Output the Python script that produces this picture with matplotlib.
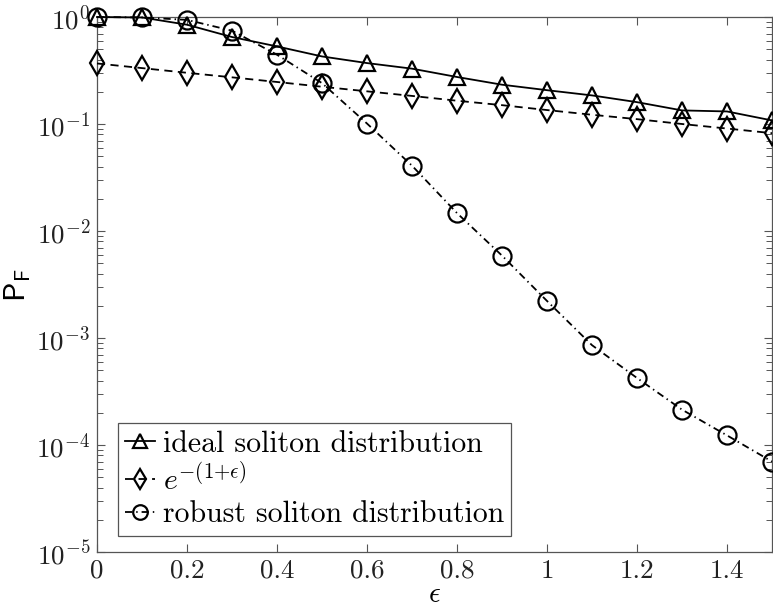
import math
import matplotlib
matplotlib.use("Agg")
import matplotlib.pyplot as plt
from matplotlib.ticker import FixedLocator, FuncFormatter, LogLocator, NullFormatter

plt.rcParams['font.family'] = 'cmr10'
plt.rcParams['mathtext.fontset'] = 'cm'
plt.rcParams['axes.formatter.use_mathtext'] = True
plt.rcParams['axes.unicode_minus'] = False

# values
eps = [0.0, 0.1, 0.2, 0.3, 0.4, 0.5, 0.6, 0.7, 0.8, 0.9, 1.0, 1.1, 1.2, 1.3, 1.4, 1.5]
ideal = [1.0, 0.99, 0.847, 0.65, 0.531, 0.428, 0.371, 0.329, 0.275, 0.233,
         0.207, 0.185, 0.160, 0.134, 0.131, 0.108]
expo = [0.368, 0.333, 0.301, 0.273, 0.247, 0.223, 0.202, 0.183, 0.165, 0.150,
        0.135, 0.122, 0.111, 0.100, 0.0907, 0.0821]
robust = [1.0, 0.99, 0.94, 0.745, 0.444, 0.241, 0.101, 0.0408, 0.0147, 0.00589,
          0.00222, 0.000857, 0.000423, 0.000214, 0.000123, 0.000070]
xticks = [0, 0.2, 0.4, 0.6, 0.8, 1.0, 1.2, 1.4]
xticklabels = ['0', '0.2', '0.4', '0.6', '0.8', '1', '1.2', '1.4']

fig = plt.figure(figsize=(7.73, 6.10), dpi=100)
ax = fig.add_axes([97 / 773, 58 / 610, 675 / 773, 535 / 610])

lw = 1.3
ax.plot(eps, ideal, color='black', lw=lw, ls='-', marker='^', ms=12,
        mfc='none', mew=1.6, clip_on=False, zorder=3,
        label='ideal soliton distribution')
ax.plot(eps, expo, color='black', lw=lw, ls=(0, (4.5, 3)), marker='d', ms=12,
        mfc='none', mew=1.6, clip_on=False, zorder=3,
        label=r'$e^{-(1{+}\epsilon)}$')
ax.plot(eps, robust, color='black', lw=lw, ls=(0, (4, 2.2, 0.8, 2.2)), marker='o', ms=13,
        mfc='none', mew=1.6, clip_on=False, zorder=3,
        label='robust soliton distribution')

ax.set_yscale('log')
ax.set_xlim(0, 1.5)
ax.set_ylim(1e-5, 1)

ax.xaxis.set_major_locator(FixedLocator(xticks))
ax.set_xticklabels(xticklabels)
ax.yaxis.set_major_locator(LogLocator(base=10, numticks=10))
ax.yaxis.set_minor_locator(LogLocator(base=10, subs=range(2, 10), numticks=20))
ax.yaxis.set_major_formatter(FuncFormatter(lambda v, p: r'$10^{%d}$' % round(math.log10(v))))
ax.yaxis.set_minor_formatter(NullFormatter())

grey = '#555555'
for s in ax.spines.values():
    s.set_color(grey)
    s.set_linewidth(0.9)
ax.tick_params(which='both', direction='in', top=True, right=True, color=grey,
               labelsize=19.5, labelcolor='#222222', pad=5)
ax.tick_params(which='major', length=6, width=0.8)
ax.tick_params(which='minor', length=4, width=0.7)

ax.set_xlabel(r'$\epsilon$', fontsize=21, labelpad=-1)
ax.set_ylabel(r'$\mathsf{P}_{\mathsf{F}}$', fontsize=22, labelpad=2)

leg = ax.legend(loc='lower left', bbox_to_anchor=(0.031, 0.030), borderaxespad=0,
                fontsize=21.5, numpoints=1, handlelength=1.0, handletextpad=0.25,
                labelspacing=0.18, borderpad=0.25, fancybox=False, framealpha=1,
                edgecolor=grey)
leg.get_frame().set_linewidth(0.9)
for h in leg.legend_handles:
    h.set_markersize(10.5)

fig.savefig('out.png', dpi=100)
